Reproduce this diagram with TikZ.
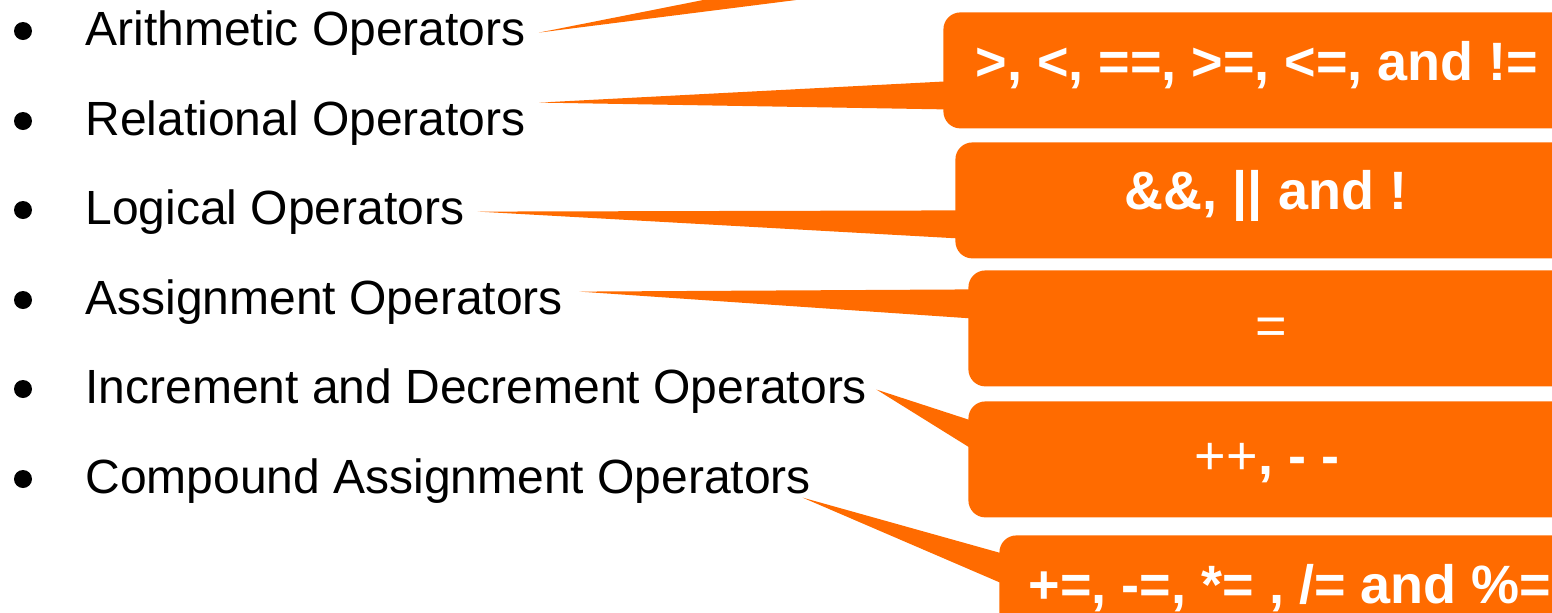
\documentclass[tikz,border=0pt]{standalone}
\usepackage{fontspec}
\setmainfont{Liberation Sans}
\usetikzlibrary{calc, positioning}
\definecolor{callout}{RGB}{255,107,0}

\tikzset{
  item/.style={anchor=base west, inner sep=0pt, font=\fontsize{24}{28}\selectfont},
  dot/.style={circle, fill=black, inner sep=0pt, minimum size=9pt},
  callbox/.style={fill=callout, rounded corners=8.5pt, anchor=north west,
    minimum width=330pt, minimum height=58pt, inner sep=0pt},
  calltext/.style={anchor=base, text=white, inner sep=0pt,
    font=\fontsize{27}{32}\selectfont\bfseries},
}

% tail of a callout: tip, box, offsets of the two base points
\newcommand{\calltail}[4]{%
  \fill[callout] (#1) -- ($(#2.west)+(3,#3)$) -- ($(#2.west)+(3,#4)$) -- cycle;}

\begin{document}
\begin{tikzpicture}[x=0.5pt, y=-0.5pt]
  \useasboundingbox (0,0) rectangle (1552,612);
  \clip (0,0) rectangle (1552,612);

  % the list of operator groups
  \node[item] (arith) at (85,45) {Arithmetic Operators};
  \node[item] (rel) at (85,135) {Relational Operators};
  \node[item] (logic) at (85,224) {Logical Operators};
  \node[item] (assign) at (85,314) {Assignment Operators};
  \node[item] (incdec) at (85,403) {Increment and Decrement Operators};
  \node[item] (compound) at (85,493) {Compound Assignment Operators};

  \foreach \n in {arith, rel, logic, assign, incdec, compound}
    \node[dot] (\n-dot) at ($(\n.base west)+(-62,-14)$) {};

  % callout boxes
  \node[callbox] (arithBox) at (940,-118) {};
  \node[callbox] (relBox) at (943,12) {};
  \node[callbox] (logicBox) at (955,142) {};
  \node[callbox] (assignBox) at (968,270) {};
  \node[callbox] (incdecBox) at (968,401) {};
  \node[callbox] (compoundBox) at (999,535) {};

  % tips of the tails
  \coordinate (arithTip) at ($(arith.east)+(13,0)$);
  \coordinate (relTip) at ($(rel.east)+(13,-20)$);
  \coordinate (logicTip) at ($(logic.east)+(13,0)$);
  \coordinate (assignTip) at ($(assign.east)+(16,-10)$);
  \coordinate (incdecTip) at ($(incdec.east)+(9,-1)$);
  \coordinate (compoundTip) at ($(compound.east)+(-9,17)$);

  \calltail{arithTip}{arithBox}{12}{41}
  \calltail{relTip}{relBox}{11}{39}
  \calltail{logicTip}{logicBox}{10}{38}
  \calltail{assignTip}{assignBox}{-39}{-10}
  \calltail{incdecTip}{incdecBox}{-39}{-11}
  \calltail{compoundTip}{compoundBox}{-40}{-10}

  % operators
  \node[calltext] (relOps) at (1257,80) {>, <, ==, >=, <=, and !=};
  \node[calltext] (logicOps) at (1266,209) {\&\&, || and !};
  \node[calltext, font=\fontsize{27}{32}\selectfont] (assignOps) at (1271,344) {=};
  \node[calltext] (incdecOps) at (1267,474) {\mdseries++\bfseries, - -};
  \node[calltext] (compoundOps) at (1290,603) {+=, -=, *= , /= and \%=};
\end{tikzpicture}
\end{document}
